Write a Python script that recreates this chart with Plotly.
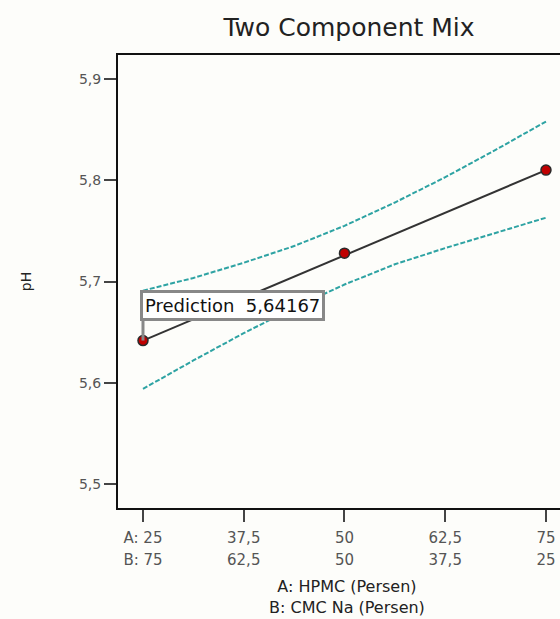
import plotly.graph_objects as go

# Design points (A: HPMC %)
x_points = [25, 50, 75]
ph_points = [5.64167, 5.728, 5.810]

# Fitted linear mixture model
x_fit = [25, 75]
ph_fit = [5.64167, 5.810]

# Confidence band
x_band = [25, 31.25, 37.5, 43.75, 50, 56.25, 62.5, 68.75, 75]
band_upper = [5.691, 5.7035, 5.7185, 5.735, 5.755, 5.778, 5.803, 5.830, 5.858]
band_lower = [5.594, 5.622, 5.649, 5.674, 5.697, 5.717, 5.733, 5.748, 5.763]

x_tickvals = [25, 37.5, 50, 62.5, 75]
x_ticktext_a = ["A: 25", "37,5", "50", "62,5", "75"]
x_ticktext_b = ["B: 75", "62,5", "50", "37,5", "25"]
y_tickvals = [5.5, 5.6, 5.7, 5.8, 5.9]
y_ticktext = ["5,5", "5,6", "5,7", "5,8", "5,9"]

pred_x = 25
pred_value = 5.64167
pred_label = "Prediction  5,64167"

FONT = "DejaVu Sans"
teal = "#2ea3a3"
XR = [21.9, 76.74]
H = 619
PL, PR, PT, PB = 118, 560, 55, 508  # plot area in pixels

fig = go.Figure()
fig.add_trace(go.Scatter(x=x_band, y=band_upper, mode="lines",
                         line=dict(color=teal, width=2, dash="5px,2px"),
                         hoverinfo="skip", showlegend=False))
fig.add_trace(go.Scatter(x=x_band, y=band_lower, mode="lines",
                         line=dict(color=teal, width=2, dash="5px,2px"),
                         hoverinfo="skip", showlegend=False))
fig.add_trace(go.Scatter(x=x_fit, y=ph_fit, mode="lines",
                         line=dict(color="#333333", width=2),
                         showlegend=False))
fig.add_trace(go.Scatter(x=x_points, y=ph_points, mode="markers",
                         marker=dict(color="#c00000", size=10,
                                     line=dict(color="#2a2a2a", width=1.5)),
                         showlegend=False))
# invisible trace so the second (B-row) axis is drawn
fig.add_trace(go.Scatter(x=x_points, y=ph_points, xaxis="x2", mode="markers",
                         marker=dict(opacity=0), hoverinfo="skip", showlegend=False))

# leader line from prediction point to the label box
fig.add_shape(type="line", xref="x", yref="y",
              x0=pred_x, x1=pred_x, y0=pred_value, y1=5.662,
              line=dict(color="#888888", width=3))

fig.add_annotation(x=pred_x, y=5.6765, xref="x", yref="y",
                   text=pred_label, showarrow=False,
                   xanchor="left", yanchor="middle", xshift=-3,
                   font=dict(family=FONT, size=18, color="#111111"),
                   bgcolor="white", bordercolor="#888888", borderwidth=3,
                   borderpad=2)

# two-line x-axis title
fig.add_annotation(x=(347 - PL) / (PR - PL), y=(PB - 597) / (PB - PT),
                   xref="paper", yref="paper",
                   text="A: HPMC (Persen)<br>B: CMC Na (Persen)", showarrow=False,
                   xanchor="center", yanchor="middle",
                   font=dict(family=FONT, size=16, color="#222222"))

tickfont_x = dict(family=FONT, size=15, color="#555555")
fig.update_layout(
    width=560, height=H,
    margin=dict(l=PL, r=560 - PR, t=PT, b=H - PB),
    paper_bgcolor="#fdfdfa", plot_bgcolor="#fdfdfa",
    font=dict(family=FONT, color="#555555"),
    title=dict(text="Two Component Mix", x=349 / 560, xanchor="center",
               y=1 - 27 / H, yanchor="middle",
               font=dict(family=FONT, size=25, color="#222222")),
    xaxis=dict(range=XR, tickvals=x_tickvals, ticktext=x_ticktext_a,
               showline=True, linecolor="#111111", linewidth=2, mirror=True,
               ticks="outside", ticklen=12, tickwidth=2, tickcolor="#444444",
               ticklabelstandoff=3,
               showgrid=False, zeroline=False, automargin=False,
               tickfont=tickfont_x),
    xaxis2=dict(range=XR, overlaying="x", anchor="y", side="bottom",
                tickvals=x_tickvals, ticktext=x_ticktext_b,
                showline=False, ticks="outside", ticklen=35, tickwidth=0,
                tickcolor="rgba(0,0,0,0)", ticklabelstandoff=3,
                showgrid=False, zeroline=False, automargin=False,
                tickfont=tickfont_x),
    yaxis=dict(range=[5.4763, 5.9237], tickvals=y_tickvals, ticktext=y_ticktext,
               showline=True, linecolor="#111111", linewidth=2,
               ticks="outside", ticklen=12, tickwidth=2, tickcolor="#444444",
               showgrid=False, zeroline=False, automargin=False,
               tickfont=dict(family=FONT, size=14, color="#555555"),
               title=dict(text="pH", standoff=44,
                          font=dict(family=FONT, size=14, color="#222222"))),
)

fig.write_html("out.html")
